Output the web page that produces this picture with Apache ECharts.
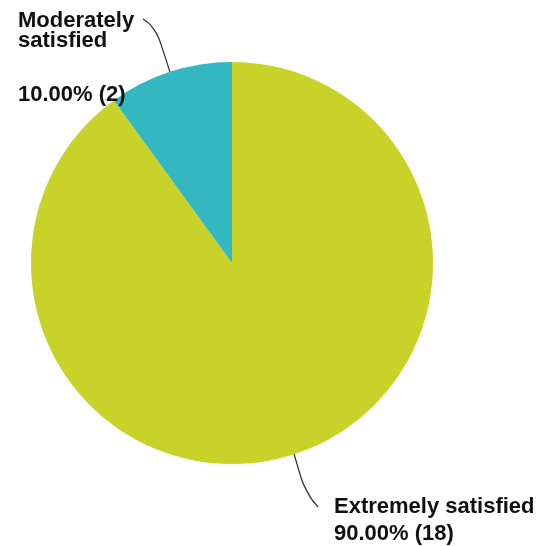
<!DOCTYPE html>
<html><head><meta charset="utf-8">
<script src="https://cdn.jsdelivr.net/npm/echarts@6/dist/echarts.min.js"></script>
<style>html,body{margin:0;padding:0;background:#fff}#c{width:537px;height:546px}</style>
</head><body><div id="c"></div>
<script>
const categories = ['Extremely satisfied', 'Moderately satisfied'];
const counts = [18, 2];
const percents = ['90.00%', '10.00%'];
const nameLines = [['Extremely satisfied'], ['Moderately', 'satisfied']];
const colors = ['#C8D228', '#33B7C1'];

const FONT = 'Arial';
const chart = echarts.init(document.getElementById('c'), null, {renderer: 'canvas'});
const data = categories.map((c, i) => ({
  name: c, value: counts[i], itemStyle: {color: colors[i]}
}));
function txt(lh) {
  return {fontFamily: FONT, fontWeight: 'bold', fontSize: 22, lineHeight: lh, color: '#111'};
}
chart.setOption({
  animation: false,
  backgroundColor: '#ffffff',
  series: [{
    type: 'pie',
    center: [232, 263],
    radius: 201,
    startAngle: 90,
    clockwise: true,
    data: data,
    label: {
      show: true,
      position: 'outside',
      fontFamily: FONT,
      fontWeight: 'bold',
      fontSize: 22,
      color: '#111',
      formatter: function (p) {
        const i = p.dataIndex;
        const head = nameLines[i].map(s => '{n' + i + '|' + s + '}').join('\n');
        const val = '{v' + i + '|' + percents[i] + ' (' + counts[i] + ')}';
        return i === 1 ? head + '\n{g|}\n' + val : head + '\n' + val;
      },
      rich: {
        n0: txt(26),
        v0: txt(27),
        n1: txt(20),
        v1: txt(24),
        g: {fontSize: 10, lineHeight: 32}
      }
    },
    labelLine: {
      show: true,
      smooth: 0.5,
      length: 30,
      length2: 10,
      lineStyle: {color: '#333', width: 1.3}
    },
    labelLayout: function (p) {
      const a = (p.labelLinePoints && p.labelLinePoints[0]) || null;
      if (p.dataIndex === 1) {
        const lx = 18, ly = 11;
        const end = [lx + 125, ly + 8];
        const pts = a ? [a, [a[0] - 14, a[1] - 44], end] : undefined;
        return {x: lx, y: ly, align: 'left', verticalAlign: 'top', labelLinePoints: pts};
      }
      const lx = 334, ly = 494;
      const end = [lx - 16, ly + 13];
      const pts = a ? [a, [a[0] + 11, a[1] + 38], end] : undefined;
      return {x: lx, y: ly, align: 'left', verticalAlign: 'top', labelLinePoints: pts};
    }
  }]
});
</script>
</body></html>
